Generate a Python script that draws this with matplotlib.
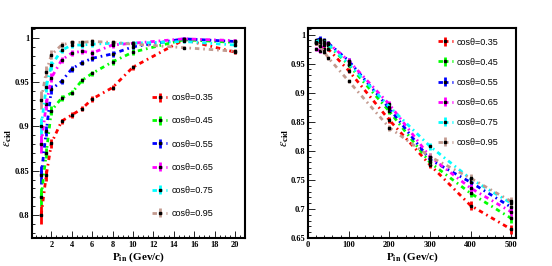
import numpy as np
import matplotlib
matplotlib.use("Agg")
import matplotlib.pyplot as plt
from matplotlib.ticker import MultipleLocator, FixedLocator

plt.rcParams['mathtext.fontset'] = 'stix'

labels = ['cos\u03b8=0.35', 'cos\u03b8=0.45', 'cos\u03b8=0.55',
          'cos\u03b8=0.65', 'cos\u03b8=0.75', 'cos\u03b8=0.95']
colors = ['#ff0000', '#00ff00', '#0000ff', '#ff00ff', '#00ffff', '#c39a8f']

# left panel: low momentum
p_low = [1, 1.5, 2, 3, 4, 5, 6, 8, 10, 15, 20]
eff_low_035 = [0.800, 0.845, 0.881, 0.906, 0.913, 0.920, 0.931, 0.944, 0.967, 0.998, 0.984]
eff_low_045 = [0.820, 0.870, 0.918, 0.932, 0.938, 0.952, 0.960, 0.973, 0.984, 0.998, 0.995]
eff_low_055 = [0.845, 0.895, 0.942, 0.951, 0.965, 0.972, 0.977, 0.982, 0.990, 0.999, 0.996]
eff_low_065 = [0.880, 0.925, 0.955, 0.975, 0.983, 0.985, 0.983, 0.992, 0.994, 0.999, 0.997]
eff_low_075 = [0.900, 0.945, 0.969, 0.986, 0.992, 0.992, 0.993, 0.994, 0.994, 0.996, 0.992]
eff_low_095 = [0.930, 0.962, 0.981, 0.992, 0.995, 0.995, 0.996, 0.995, 0.993, 0.989, 0.985]
err_low = [0.010, 0.006, 0.005, 0.003, 0.003, 0.003, 0.003, 0.003, 0.003, 0.002, 0.002]

# right panel: high momentum
p_high = [20, 30, 40, 50, 100, 200, 300, 400, 500]
eff_high_035 = [0.985, 0.985, 0.976, 0.975, 0.938, 0.853, 0.776, 0.706, 0.665]
eff_high_045 = [0.988, 0.990, 0.985, 0.982, 0.948, 0.868, 0.780, 0.727, 0.684]
eff_high_055 = [0.990, 0.993, 0.990, 0.985, 0.955, 0.873, 0.785, 0.746, 0.703]
eff_high_065 = [0.975, 0.972, 0.982, 0.985, 0.955, 0.880, 0.790, 0.736, 0.695]
eff_high_075 = [0.988, 0.990, 0.988, 0.983, 0.950, 0.876, 0.808, 0.752, 0.710]
eff_high_095 = [0.985, 0.980, 0.970, 0.960, 0.920, 0.840, 0.790, 0.753, 0.713]
err_high = [0.003, 0.004, 0.004, 0.004, 0.004, 0.005, 0.006, 0.007, 0.008]

low = [eff_low_035, eff_low_045, eff_low_055, eff_low_065, eff_low_075, eff_low_095]
high = [eff_high_035, eff_high_045, eff_high_055, eff_high_065, eff_high_075, eff_high_095]

fig = plt.figure(figsize=(5.52, 2.66), dpi=100)
ax1 = fig.add_axes([0.058, 0.105, 0.386, 0.789])
ax2 = fig.add_axes([0.558, 0.105, 0.377, 0.789])

ls = (0, (1.6, 1.4, 0.6, 1.4))

def draw(ax, x, series, err):
    for y, c, lab in zip(series, colors, labels):
        ax.errorbar(x, y, yerr=err, color=c, lw=2.0, ls=ls, elinewidth=2.0,
                    capsize=0, marker='s', ms=1.6, mfc='k', mec='k', label=lab)

draw(ax1, p_low, low, err_low)
draw(ax2, p_high, high, err_high)

ax1.set_xlim(0.1, 21.0)
ax1.set_ylim(0.774, 1.011)
ax1.xaxis.set_major_locator(FixedLocator(np.arange(2, 21, 2)))
ax1.xaxis.set_minor_locator(MultipleLocator(0.5))
ax1.yaxis.set_major_locator(FixedLocator([0.8, 0.85, 0.9, 0.95, 1.0]))
ax1.yaxis.set_minor_locator(MultipleLocator(0.01))
ax1.set_yticklabels(['0.8', '0.85', '0.9', '0.95', '1'])

ax2.set_xlim(0, 512)
ax2.set_ylim(0.65, 1.011)
ax2.xaxis.set_major_locator(FixedLocator(np.arange(0, 501, 100)))
ax2.xaxis.set_minor_locator(MultipleLocator(20))
ax2.yaxis.set_major_locator(FixedLocator(np.arange(0.65, 1.001, 0.05)))
ax2.yaxis.set_minor_locator(MultipleLocator(0.01))
ax2.set_yticklabels(['0.65', '0.7', '0.75', '0.8', '0.85', '0.9', '0.95', '1'])

for ax in (ax1, ax2):
    for s in ax.spines.values():
        s.set_linewidth(1.5)
    ax.tick_params(which='both', direction='in', top=False, right=False, width=0.6)
    ax.tick_params(which='major', length=5, pad=2)
    ax.tick_params(which='minor', length=2.5)
    for t in ax.get_xticklabels() + ax.get_yticklabels():
        t.set_fontfamily('Liberation Serif')
        t.set_fontweight('bold')
        t.set_fontsize(6)
    ax.set_xlabel(r'$\mathbf{P_{in}}$ (Gev/c)', fontfamily='Liberation Serif',
                  fontweight='bold', fontsize=8, labelpad=1)
    ax.set_ylabel(r'$\epsilon_{\mathbf{cid}}$', fontsize=9)
ax1.yaxis.set_label_coords(-0.085, 0.48)
ax2.yaxis.set_label_coords(-0.082, 0.48)

leg_kw = dict(frameon=False, handlelength=1.6, handletextpad=0.5,
              borderpad=0, borderaxespad=0,
              prop={'family': 'Liberation Sans', 'size': 6.5})
ax1.legend(loc='upper left', bbox_to_anchor=(0.565, 0.69), labelspacing=1.57, **leg_kw)
ax2.legend(loc='upper left', bbox_to_anchor=(0.625, 0.955), labelspacing=1.22, **leg_kw)

fig.savefig('out.png', dpi=100)
